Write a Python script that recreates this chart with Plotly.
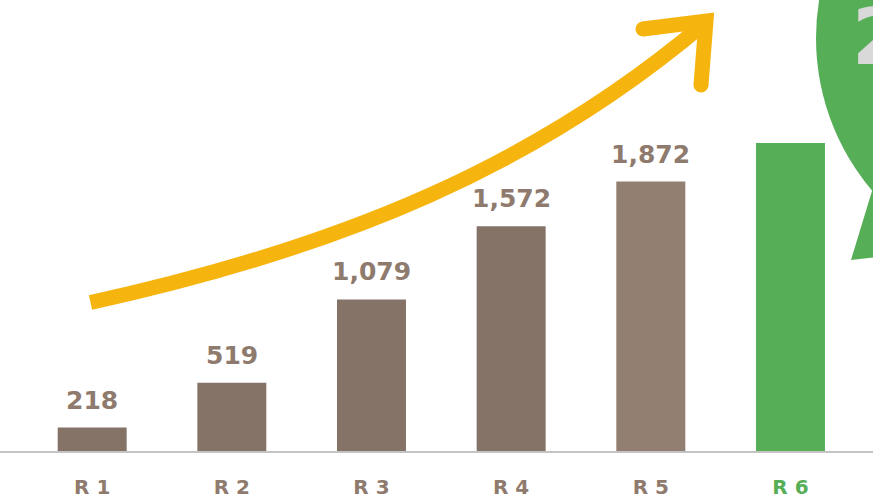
import plotly.graph_objects as go

# ---- data ----
categories = ["R 1", "R 2", "R 3", "R 4", "R 5", "R 6"]
values = [218, 519, 1079, 1572, 1872, 2131]
labelled = [True, True, True, True, True, False]
bubble_text = "2,131"

# ---- styles ----
W, H = 873, 499
B = 48               # bottom margin
PH = H - B           # plot-area height in px
bar_colors = ["#857368", "#857368", "#857368", "#857368", "#937e72", "#56ae57"]
label_color = "#8f7a6e"
green = "#56ae57"
arrow_color = "#f6b40e"
font_family = "DejaVu Sans"

def px(x):
    return x / W

def py(y):
    return (PH - y) / PH

fig = go.Figure()
fig.add_trace(go.Bar(
    x=categories, y=values,
    marker=dict(color=bar_colors, line=dict(width=0)),
    hoverinfo="skip",
))

# value labels
annotations = []
for c, v, show in zip(categories, values, labelled):
    if show:
        annotations.append(dict(
            x=c, y=v, xref="x", yref="y", text=f"<b>{v:,}</b>",
            showarrow=False, yanchor="bottom", yshift=11,
            font=dict(family=font_family, size=25, color=label_color),
        ))

# bubble text (cut off at the right edge)
annotations.append(dict(
    x=px(850), y=py(-10), xref="paper", yref="paper", xanchor="left", yanchor="top",
    text=f"<b>{bubble_text}</b>", showarrow=False,
    font=dict(family=font_family, size=78, color="#d9d9d9"),
))

shapes = []
# speech bubble circle + tail
cx, cy, r = 1052, 38, 236
shapes.append(dict(type="circle", xref="paper", yref="paper",
                   x0=px(cx - r), x1=px(cx + r), y0=py(cy + r), y1=py(cy - r),
                   fillcolor=green, line=dict(width=0), layer="below"))
tail = [(851, 260), (879, 168), (980, 168), (980, 246)]
shapes.append(dict(type="path", xref="paper", yref="paper",
                   path="M " + " L ".join(f"{px(a)},{py(b)}" for a, b in tail) + " Z",
                   fillcolor=green, line=dict(width=0), layer="below"))

# curved arrow
P0, P1, P2, P3 = (90.5, 302.5), (340.5, 247.5), (536, 166.5), (706, 22)
curve = f"M {px(P0[0])},{py(P0[1])} C {px(P1[0])},{py(P1[1])} {px(P2[0])},{py(P2[1])} {px(P3[0])},{py(P3[1])}"
shapes.append(dict(type="path", xref="paper", yref="paper", path=curve,
                   line=dict(color=arrow_color, width=15)))
head = [(643, 29), (706, 21), (701, 85)]
shapes.append(dict(type="path", xref="paper", yref="paper",
                   path="M " + " L ".join(f"{px(a)},{py(b)}" for a, b in head),
                   line=dict(color=arrow_color, width=15)))
for (a, b) in (head[0], head[2]):
    shapes.append(dict(type="circle", xref="paper", yref="paper",
                       x0=px(a - 7.5), x1=px(a + 7.5), y0=py(b + 7.5), y1=py(b - 7.5),
                       fillcolor=arrow_color, line=dict(width=0)))

ticktext = [f"<span style='color:{green if i == len(categories) - 1 else label_color}'><b>{c}</b></span>"
            for i, c in enumerate(categories)]

fig.update_layout(
    width=W, height=H,
    margin=dict(l=0, r=0, t=0, b=B, pad=0, autoexpand=False),
    paper_bgcolor="white", plot_bgcolor="white",
    showlegend=False,
    bargap=0.506,
    annotations=annotations,
    shapes=shapes,
    xaxis=dict(
        type="category", range=[-0.660, 5.591], automargin=False,
        tickvals=categories, ticktext=ticktext,
        showline=True, linecolor="#c4c4c4", linewidth=2,
        showgrid=False, zeroline=False, ticks="",
        ticklabelstandoff=17,
        tickfont=dict(family=font_family, size=20, color=label_color),
    ),
    yaxis=dict(range=[60, 3093], visible=False, showgrid=False, zeroline=False, automargin=False),
)

fig.write_html("out.html", config={"displayModeBar": False},
               post_script="document.body.style.margin='0px';document.body.style.overflow='hidden';")
